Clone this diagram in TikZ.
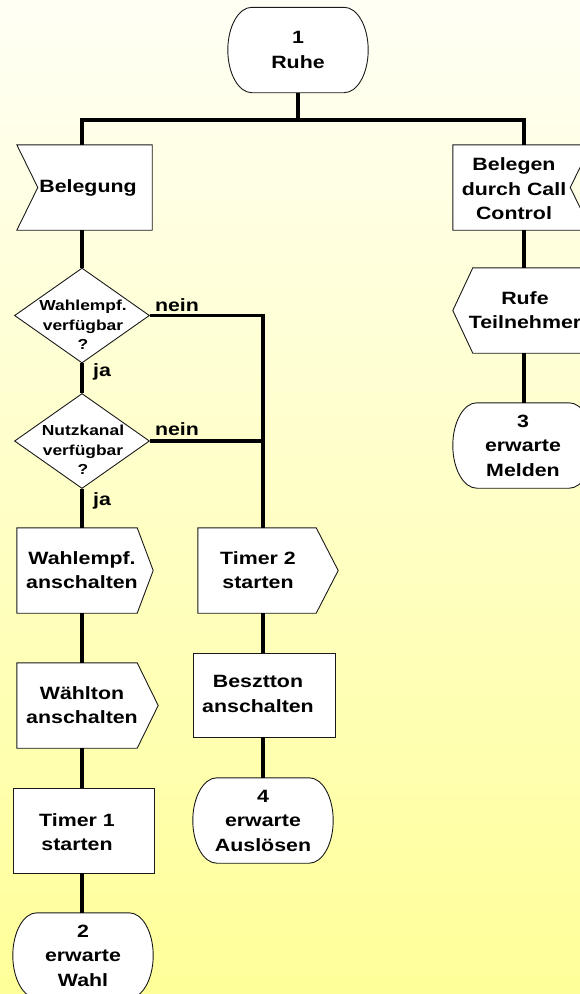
\documentclass[tikz,border=0pt]{standalone}
\usepackage{fontspec}
\setmainfont{Liberation Sans}[FakeStretch=1.2]
\usetikzlibrary{shapes.geometric,calc}
\pgfdeclarelayer{bg}
\pgfdeclarelayer{shp}
\pgfsetlayers{bg,shp,main}
\definecolor{bgtop}{HTML}{FFFFF5}
\definecolor{bgbot}{HTML}{FFFF99}
\definecolor{edge}{HTML}{1A1A1A}
\tikzset{
  conn/.style={line width=3.6pt, black},
  outline/.style={draw=edge, line width=0.9pt, fill=white, line join=miter},
  bodybox/.style={shape=rectangle, inner sep=0pt, minimum width=#1, minimum height=85pt},
  taskbox/.style={shape=rectangle, draw=edge, line width=0.9pt, fill=white, inner sep=0pt, minimum height=85pt},
  statebox/.style={shape=rectangle, minimum width=140pt, minimum height=85pt, inner sep=0pt, align=center,
    font=\bfseries\fontsize{17.8}{24.5}\selectfont},
  txt/.style={font=\bfseries\fontsize{17.8}{24.5}\selectfont, align=center, inner sep=0pt},
  dtxt/.style={font=\bfseries\fontsize{14.5}{19.5}\selectfont, align=center, inner sep=0pt},
  dia/.style={diamond, draw=edge, line width=0.9pt, fill=white, minimum width=135pt, minimum height=95pt, inner sep=0pt},
}
% outline of an SDL state symbol (half-elliptic ends) around node #1
\newcommand\stateoutline[1]{%
  \path[outline] ($(#1.north west)+(24,0)$) -- ($(#1.north east)+(-24,0)$)
    .. controls +(13.2,0) and +(0,-23.5) .. (#1.east)
    .. controls +(0,23.5) and +(13.2,0) .. ($(#1.south east)+(-24,0)$)
    -- ($(#1.south west)+(24,0)$)
    .. controls +(-13.2,0) and +(0,23.5) .. (#1.west)
    .. controls +(0,-23.5) and +(-13.2,0) .. ($(#1.north west)+(24,0)$) -- cycle;}
\begin{document}
\begin{tikzpicture}[x=1pt,y=-1pt]
\useasboundingbox (0,0) rectangle (580,994);
\begin{pgfonlayer}{bg}
\shade[top color=bgtop, bottom color=bgbot] (0,0) rectangle (580,994);
\end{pgfonlayer}
\coordinate (colL) at (82,0);
\coordinate (colM) at (263,0);
\coordinate (colR) at (524,0);
\coordinate (bar) at (298,120);

% state 1
\node[statebox] (s1) at (298,50) {1\\Ruhe};

% left branch
\node[bodybox=135pt] (bel) at (84.5,187.5) {};
\node[txt] (belt) at (88,187.5) {Belegung};

\node[dia] (d1) at (82,315.5) {};
\node[dtxt] (d1t) at (83,325) {Wahlempf.\\verfügbar\\?};
\node[dia] (d2) at (82,441) {};
\node[dtxt] (d2t) at (83,450) {Nutzkanal\\verfügbar\\?};

\node[txt, anchor=base] (nein1) at (177,311) {nein};
\node[txt, anchor=base] (nein2) at (177,435) {nein};
\node[txt, anchor=base] (ja1) at (102,376) {ja};
\node[txt, anchor=base] (ja2) at (102,505) {ja};

\node[bodybox=120pt] (wa) at (77,570.5) {};
\node[txt] (wat) at (82,570) {Wahlempf.\\anschalten};
\node[bodybox=120pt] (wt) at (77,705.5) {};
\node[txt] (wtt) at (82,705) {Wählton\\anschalten};
\node[taskbox, minimum width=141pt] (t1) at (83.5,830.5) {};
\node[txt] (t1t) at (77,832) {Timer 1\\starten};
\node[statebox] (s2) at (83,955.5) {2\\erwarte\\Wahl};

% middle branch
\node[bodybox=118pt] (t2) at (257,570.5) {};
\node[txt] (t2t) at (258,570) {Timer 2\\starten};
\node[taskbox, minimum width=142pt, minimum height=84pt] (bz) at (264,695) {};
\node[txt] (bzt) at (258,694) {Besztton\\anschalten};
\node[statebox] (s4) at (263,820.5) {4\\erwarte\\Auslösen};

% right branch
\node[bodybox=138pt] (bcc) at (522,187.5) {};
\node[txt] (bcct) at (514,189) {Belegen\\durch Call\\Control};
\node[bodybox=118pt] (rt) at (532,310.5) {};
\node[txt] (rtt) at (525,310) {Rufe\\Teilnehmer};
\node[statebox] (s3) at (523,445.5) {3\\erwarte\\Melden};

% outlines of the symbols
\begin{pgfonlayer}{shp}
\stateoutline{s1}
\stateoutline{s2}
\stateoutline{s3}
\stateoutline{s4}
\path[outline] (bel.north west) -- (bel.north east) -- (bel.south east) -- (bel.south west) -- ($(bel.west)+(21,0)$) -- cycle;
\path[outline] (bcc.north west) -- (bcc.north east) -- ($(bcc.east)+(-21,0)$) -- (bcc.south east) -- (bcc.south west) -- cycle;
\path[outline] (rt.north west) -- (rt.north east) -- (rt.south east) -- (rt.south west) -- ($(rt.west)+(-20,0)$) -- cycle;
\path[outline] (wa.north west) -- (wa.north east) -- ($(wa.east)+(16,0)$) -- (wa.south east) -- (wa.south west) -- cycle;
\path[outline] (wt.north west) -- (wt.north east) -- ($(wt.east)+(21,0)$) -- (wt.south east) -- (wt.south west) -- cycle;
\path[outline] (t2.north west) -- (t2.north east) -- ($(t2.east)+(22,0)$) -- (t2.south east) -- (t2.south west) -- cycle;
\end{pgfonlayer}

% connectors
\draw[conn] (s1.south) -- (bar);
\draw[conn] (bel.north -| colL) |- (bar) -| (bcc.north -| colR);
\draw[conn] (bel.south -| colL) -- (d1.north);
\draw[conn] (d1.south) -- (d2.north);
\draw[conn] (d2.south) -- (wa.north -| colL);
\draw[conn] (wa.south -| colL) -- (wt.north -| colL);
\draw[conn] (wt.south -| colL) -- (t1.north -| colL);
\draw[conn] (t1.south -| colL) -- (s2.north -| colL);
\draw[conn] (d1.east) -| (t2.north -| colM);
\coordinate (j2) at (d2.east -| colM);
\draw[conn] (d2.east) -- (j2);
\draw[conn] (t2.south -| colM) -- (bz.north -| colM);
\draw[conn] (bz.south -| colM) -- (s4.north);
\draw[conn] (bcc.south -| colR) -- (rt.north -| colR);
\draw[conn] (rt.south -| colR) -- (s3.north -| colR);
\end{tikzpicture}
\end{document}
